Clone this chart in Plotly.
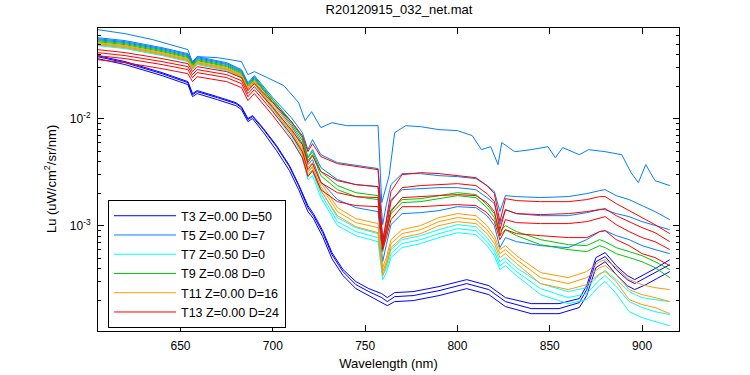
import numpy as np
import plotly.graph_objects as go

# ---------------- text ----------------
title_text = "R20120915_032_net.mat"
x_title = "Wavelength (nm)"
y_title = "Lu (uW/cm<sup>2</sup>/sr/nm)"
legend_labels = ["T3 Z=0.00 D=50", "T5 Z=0.00 D=7", "T7 Z=0.50 D=0",
                 "T9 Z=0.08 D=0", "T11 Z=0.00 D=16", "T13 Z=0.00 D=24"]
x_tick_vals = [650, 700, 750, 800, 850, 900]
y_tick_vals = [1e-3, 1e-2]
y_tick_text = ["10<sup>-3</sup>", "10<sup>-2</sup>"]

# ---------------- wavelength grids (nm) ----------------
wl_cluster = [605, 620, 640, 654, 656.5, 659, 675, 683, 686.5, 690,
              700, 710, 716, 719, 721.5, 726, 735, 745, 757,
              759.5, 761.5, 764, 770,
              780, 790, 800, 810, 816, 820, 823, 826, 832,
              845, 860, 870, 877, 880, 886, 893, 900, 907, 915]
wl_t5_top = [605, 620, 635, 650, 654, 656.5, 659, 670, 683, 686.5,
             690, 697, 706, 714, 717.5, 721, 726, 732, 740, 750,
             757, 759, 761, 763, 766, 772, 780, 790, 800, 808,
             813, 818, 822, 824, 831, 840, 849, 853, 857, 866,
             871, 880, 889, 894, 898, 902, 907, 915]
wl_t3 = [605, 620, 640, 654, 656.5, 659, 670, 680, 683, 686.5,
         689, 695, 702, 709, 714, 719, 722, 727, 732, 738,
         745, 752, 759, 762, 766, 776, 790, 805, 817, 826,
         840, 855, 866, 870, 875, 880, 886, 892, 896, 902, 908, 915]

# ---------------- log10(Lu) ----------------
# T3 (3 spectra)
t3_a = [-1.418, -1.474, -1.577, -1.661, -1.773, -1.745, -1.801, -1.857, -1.894, -2.006,
        -1.978, -2.100, -2.259, -2.446, -2.623, -2.829, -2.904, -3.063, -3.268, -3.427,
        -3.549, -3.614, -3.670, -3.707, -3.661, -3.651, -3.605, -3.539, -3.595, -3.707,
        -3.773, -3.773, -3.717, -3.595, -3.334, -3.287, -3.408, -3.502, -3.539, -3.483, -3.427, -3.362]
t3_b = [-1.436, -1.492, -1.595, -1.679, -1.792, -1.763, -1.820, -1.876, -1.913, -2.025,
        -1.997, -2.128, -2.296, -2.483, -2.661, -2.866, -2.932, -3.100, -3.306, -3.464,
        -3.586, -3.651, -3.717, -3.745, -3.707, -3.698, -3.651, -3.586, -3.642, -3.754,
        -3.820, -3.820, -3.763, -3.651, -3.390, -3.334, -3.455, -3.558, -3.595, -3.549, -3.492, -3.427]
t3_c = [-1.408, -1.464, -1.567, -1.651, -1.763, -1.735, -1.792, -1.848, -1.885, -1.997,
        -1.969, -2.091, -2.249, -2.436, -2.614, -2.810, -2.885, -3.044, -3.249, -3.408,
        -3.520, -3.586, -3.633, -3.670, -3.623, -3.614, -3.567, -3.502, -3.558, -3.670,
        -3.726, -3.726, -3.679, -3.558, -3.296, -3.249, -3.371, -3.464, -3.502, -3.446, -3.390, -3.315]

# T5 (top spectrum on its own grid + 3 spectra on the common grid)
t5_top = [-1.165, -1.203, -1.259, -1.334, -1.352, -1.474, -1.418, -1.427, -1.464, -1.586,
          -1.558, -1.614, -1.689, -1.848, -2.016, -1.932, -2.081, -2.035, -2.063, -2.063,
          -2.063, -2.782, -2.661, -2.530, -2.128, -2.063, -2.072, -2.100, -2.109, -2.156,
          -2.287, -2.259, -2.427, -2.221, -2.306, -2.287, -2.259, -2.362, -2.268, -2.334,
          -2.287, -2.306, -2.334, -2.502, -2.595, -2.427, -2.577, -2.623]
t5_b = [-1.240, -1.268, -1.334, -1.390, -1.464, -1.418, -1.474, -1.539, -1.661, -1.595,
        -1.801, -1.988, -2.128, -2.287, -2.193, -2.334, -2.408, -2.436, -2.464,
        -2.988, -2.801, -2.614, -2.511,
        -2.511, -2.530, -2.539, -2.558, -2.623, -2.679, -2.866, -2.717, -2.726,
        -2.735, -2.726, -2.698, -2.670, -2.661, -2.717, -2.754, -2.810, -2.866, -2.941]
t5_c = [-1.250, -1.278, -1.343, -1.399, -1.474, -1.427, -1.483, -1.549, -1.670, -1.605,
        -1.820, -2.025, -2.175, -2.362, -2.287, -2.455, -2.567, -2.614, -2.633,
        -3.128, -2.960, -2.754, -2.661,
        -2.651, -2.642, -2.642, -2.661, -2.735, -2.791, -2.988, -2.848, -2.885,
        -2.904, -2.904, -2.876, -2.848, -2.848, -2.885, -2.913, -2.960, -2.997, -3.035]
t5_d = [-1.259, -1.287, -1.352, -1.408, -1.483, -1.436, -1.492, -1.558, -1.679, -1.614,
        -1.848, -2.063, -2.231, -2.427, -2.380, -2.586, -2.754, -2.829, -2.866,
        -3.334, -3.175, -2.988, -2.885,
        -2.876, -2.857, -2.820, -2.829, -2.904, -2.997, -3.203, -3.109, -3.147,
        -3.184, -3.203, -3.128, -3.053, -3.044, -3.091, -3.128, -3.184, -3.221, -3.259]

# T7
t7_a = [-1.296, -1.324, -1.390, -1.446, -1.521, -1.474, -1.530, -1.595, -1.717, -1.651,
        -1.885, -2.119, -2.306, -2.492, -2.455, -2.661, -2.922, -3.016, -3.072,
        -3.427, -3.362, -3.221, -3.128,
        -3.091, -3.035, -2.988, -3.007, -3.109, -3.203, -3.334, -3.296, -3.390,
        -3.539, -3.614, -3.577, -3.455, -3.418, -3.502, -3.614, -3.670, -3.689, -3.707]
t7_b = [-1.306, -1.334, -1.399, -1.455, -1.530, -1.483, -1.539, -1.605, -1.726, -1.661,
        -1.904, -2.147, -2.343, -2.530, -2.492, -2.698, -2.960, -3.053, -3.109,
        -3.464, -3.399, -3.259, -3.165,
        -3.128, -3.072, -3.025, -3.044, -3.147, -3.240, -3.371, -3.334, -3.427,
        -3.586, -3.670, -3.633, -3.502, -3.464, -3.567, -3.707, -3.763, -3.801, -3.829]
t7_c = [-1.315, -1.343, -1.408, -1.464, -1.539, -1.492, -1.549, -1.614, -1.735, -1.670,
        -1.922, -2.175, -2.371, -2.567, -2.530, -2.735, -2.997, -3.091, -3.147,
        -3.502, -3.436, -3.296, -3.203,
        -3.165, -3.109, -3.063, -3.081, -3.184, -3.278, -3.408, -3.371, -3.464,
        -3.642, -3.726, -3.689, -3.558, -3.520, -3.633, -3.801, -3.857, -3.894, -3.932]

# T9
t9_a = [-1.268, -1.296, -1.362, -1.418, -1.492, -1.446, -1.502, -1.567, -1.689, -1.623,
        -1.820, -2.025, -2.175, -2.362, -2.306, -2.492, -2.623, -2.689, -2.717,
        -3.203, -3.035, -2.848, -2.754,
        -2.745, -2.717, -2.689, -2.707, -2.801, -2.885, -3.053, -2.997, -3.053,
        -3.128, -3.175, -3.184, -3.128, -3.147, -3.203, -3.240, -3.278, -3.334, -3.408]
t9_b = [-1.278, -1.306, -1.371, -1.427, -1.502, -1.455, -1.511, -1.577, -1.698, -1.633,
        -1.838, -2.044, -2.203, -2.390, -2.334, -2.530, -2.661, -2.726, -2.754,
        -3.240, -3.072, -2.885, -2.782,
        -2.773, -2.745, -2.717, -2.735, -2.829, -2.922, -3.091, -3.035, -3.091,
        -3.175, -3.221, -3.240, -3.184, -3.203, -3.259, -3.296, -3.334, -3.390, -3.483]

# T11
t11_a = [-1.287, -1.315, -1.380, -1.436, -1.511, -1.464, -1.521, -1.586, -1.707, -1.642,
         -1.866, -2.081, -2.268, -2.455, -2.408, -2.595, -2.829, -2.932, -2.978,
         -3.390, -3.296, -3.128, -3.035,
         -2.997, -2.922, -2.885, -2.904, -2.997, -3.091, -3.221, -3.184, -3.278,
         -3.436, -3.483, -3.427, -3.334, -3.315, -3.390, -3.502, -3.549, -3.577, -3.595]
t11_b = [-1.296, -1.324, -1.390, -1.446, -1.521, -1.474, -1.530, -1.595, -1.717, -1.651,
         -1.885, -2.109, -2.296, -2.492, -2.446, -2.633, -2.866, -2.969, -3.016,
         -3.427, -3.334, -3.165, -3.072,
         -3.035, -2.960, -2.922, -2.941, -3.035, -3.128, -3.259, -3.221, -3.315,
         -3.483, -3.539, -3.483, -3.390, -3.371, -3.455, -3.595, -3.642, -3.670, -3.707]
t11_c = [-1.306, -1.334, -1.399, -1.455, -1.530, -1.483, -1.539, -1.605, -1.726, -1.661,
         -1.904, -2.128, -2.324, -2.521, -2.474, -2.670, -2.904, -3.007, -3.063,
         -3.464, -3.371, -3.203, -3.109,
         -3.072, -2.997, -2.960, -2.978, -3.072, -3.165, -3.296, -3.259, -3.352,
         -3.539, -3.595, -3.549, -3.446, -3.427, -3.520, -3.689, -3.735, -3.763, -3.820]

# T13
t13_a = [-1.352, -1.380, -1.436, -1.483, -1.558, -1.511, -1.558, -1.614, -1.735, -1.670,
         -1.848, -2.025, -2.156, -2.306, -2.231, -2.352, -2.418, -2.446, -2.474,
         -3.147, -2.941, -2.679, -2.521,
         -2.502, -2.511, -2.530, -2.549, -2.623, -2.698, -2.960, -2.745, -2.763,
         -2.773, -2.773, -2.754, -2.726, -2.726, -2.791, -2.857, -2.922, -2.988, -3.072]
t13_b = [-1.380, -1.408, -1.464, -1.511, -1.586, -1.539, -1.586, -1.642, -1.763, -1.698,
         -1.894, -2.100, -2.240, -2.408, -2.343, -2.492, -2.577, -2.614, -2.633,
         -3.175, -3.016, -2.773, -2.642,
         -2.623, -2.614, -2.605, -2.623, -2.698, -2.773, -3.035, -2.848, -2.885,
         -2.894, -2.885, -2.866, -2.848, -2.838, -2.904, -2.960, -3.016, -3.063, -3.147]
t13_c = [-1.408, -1.436, -1.492, -1.539, -1.614, -1.567, -1.614, -1.670, -1.792, -1.726,
         -1.932, -2.147, -2.306, -2.474, -2.418, -2.595, -2.689, -2.726, -2.735,
         -3.193, -3.053, -2.866, -2.735,
         -2.726, -2.717, -2.707, -2.717, -2.782, -2.866, -3.091, -2.941, -2.969,
         -2.978, -2.978, -2.960, -2.922, -2.913, -2.988, -3.053, -3.109, -3.147, -3.221]
t13_d = [-1.446, -1.474, -1.530, -1.577, -1.651, -1.605, -1.651, -1.707, -1.829, -1.763,
         -1.969, -2.193, -2.362, -2.539, -2.483, -2.661, -2.773, -2.810, -2.820,
         -3.221, -3.109, -2.941, -2.820,
         -2.820, -2.810, -2.801, -2.810, -2.876, -2.960, -3.128, -3.035, -3.072,
         -3.091, -3.109, -3.109, -3.053, -3.044, -3.128, -3.184, -3.259, -3.296, -3.371]

colors = ["#0000FF", "#0080FF", "#00FFFF", "#00C800", "#FF9900", "#FF0000"]

groups = [
    (legend_labels[0], colors[0], [(wl_t3, t3_a), (wl_t3, t3_b), (wl_t3, t3_c)]),
    (legend_labels[1], colors[1], [(wl_t5_top, t5_top), (wl_cluster, t5_b),
                                   (wl_cluster, t5_c), (wl_cluster, t5_d)]),
    (legend_labels[2], colors[2], [(wl_cluster, t7_a), (wl_cluster, t7_b), (wl_cluster, t7_c)]),
    (legend_labels[3], colors[3], [(wl_cluster, t9_a), (wl_cluster, t9_b)]),
    (legend_labels[4], colors[4], [(wl_cluster, t11_a), (wl_cluster, t11_b), (wl_cluster, t11_c)]),
    (legend_labels[5], colors[5], [(wl_cluster, t13_a), (wl_cluster, t13_b),
                                   (wl_cluster, t13_c), (wl_cluster, t13_d)]),
]

fig = go.Figure()
for label, color, spectra in groups:
    for i, (wl, logv) in enumerate(spectra):
        fig.add_trace(go.Scatter(
            x=wl, y=np.power(10.0, np.array(logv)), mode="lines",
            line=dict(color=color, width=1),
            name=label, legendgroup=label, showlegend=(i == 0),
        ))

font_family = "Liberation Sans, Arial, Helvetica, sans-serif"
fig.update_layout(
    width=750, height=375,
    margin=dict(l=98, r=71, t=28, b=44, autoexpand=False),
    paper_bgcolor="white", plot_bgcolor="white",
    font=dict(family=font_family, size=12, color="black"),
    title=dict(text=title_text, x=0.518, xanchor="center", xref="paper",
               y=0.988, yanchor="top", font=dict(size=13, color="black")),
    legend=dict(x=0.0172, y=0.432, xanchor="left", yanchor="top",
                bgcolor="white", bordercolor="black", borderwidth=1,
                font=dict(size=12.5, color="black"), itemwidth=62,
                tracegroupgap=0),
    showlegend=True,
    annotations=[dict(text=y_title, xref="paper", yref="paper",
                      x=-0.0833, y=0.5, xanchor="center", yanchor="middle",
                      textangle=-90, showarrow=False,
                      font=dict(size=13, color="black"))],
)
fig.update_xaxes(
    range=[605.3, 920], showline=True, linecolor="black", linewidth=1,
    mirror="ticks", ticks="inside", ticklen=6, tickcolor="black",
    tickvals=x_tick_vals, showgrid=False, zeroline=False, automargin=False,
    ticklabelstandoff=4,
    title=dict(text=x_title, font=dict(size=13), standoff=6),
)
fig.update_yaxes(
    type="log", range=[-3.982, -1.150], showline=True, linecolor="black",
    linewidth=1, mirror="ticks", ticks="inside", ticklen=6, tickcolor="black",
    tickvals=y_tick_vals, ticktext=y_tick_text, showgrid=False, zeroline=False,
    automargin=False, ticklabelstandoff=4,
    minor=dict(ticks="inside", ticklen=3, tickcolor="black", showgrid=False,
               tickvals=[2e-4, 3e-4, 4e-4, 5e-4, 6e-4, 7e-4, 8e-4, 9e-4,
                         2e-3, 3e-3, 4e-3, 5e-3, 6e-3, 7e-3, 8e-3, 9e-3,
                         2e-2, 3e-2, 4e-2, 5e-2, 6e-2, 7e-2]),
)

fig.write_html("out.html", config={"displayModeBar": False},
               post_script="document.body.style.margin='0px';")
